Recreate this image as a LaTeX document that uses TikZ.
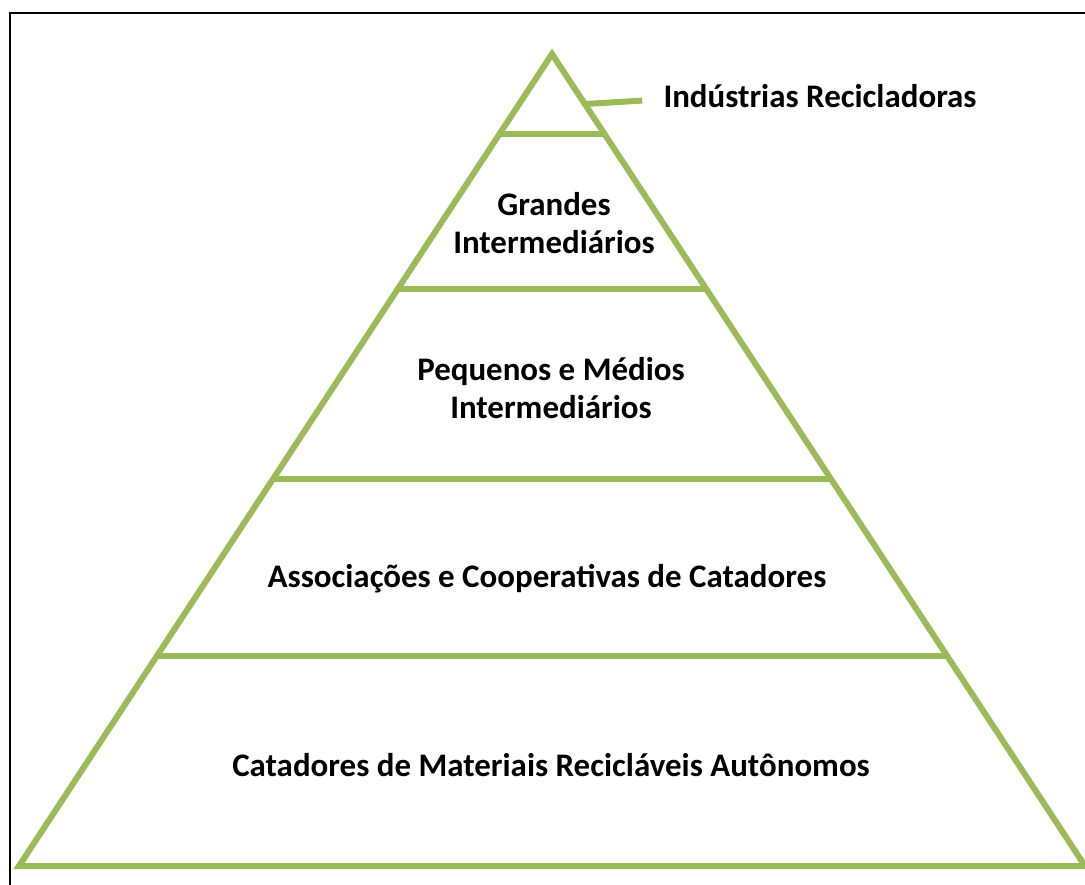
\documentclass[tikz,border=0pt]{standalone}
\usepackage{fontspec}
\setmainfont{Carlito}
\usetikzlibrary{calc}
\definecolor{pyrgreen}{HTML}{9BBB59}

\begin{document}
\begin{tikzpicture}[x=0.75pt,y=-0.75pt,
level line/.style = {draw=pyrgreen, line width=4.5pt},
level text/.style = {font=\fontsize{24.7}{29}\selectfont\bfseries, inner sep=0pt, align=center}]

\useasboundingbox (0,0) rectangle (1085,885);
\draw[line width=1.6pt] (10,885) -- (10,13) -- (1085,13);

% pyramid
\coordinate (top) at (552,54);
\coordinate (bl) at (19,866);
\coordinate (br) at (1085,866);
\draw[level line] (top) -- (bl) -- (br) -- cycle;

\foreach \f in {0.0985,0.2894,0.5234,0.7414}
  \draw[level line] ($(top)!\f!(bl)$) -- ($(top)!\f!(br)$);

% levels
\node[level text, anchor=base] (ind) at (820,107) {Indústrias Recicladoras};
\node[level text] (gra) at (554,223) {Grandes\\Intermediários};
\node[level text] (peq) at (551,388) {Pequenos e Médios\\Intermediários};
\node[level text, anchor=base] (ass) at (547,587) {Associações e Cooperativas de Catadores};
\node[level text, anchor=base] (cat) at (551,776) {Catadores de Materiais Recicláveis Autônomos};

\draw[level line] ($(top)!0.0616!(br)$) -- ($(ind.west)+(-21,5)$);
\end{tikzpicture}
\end{document}
